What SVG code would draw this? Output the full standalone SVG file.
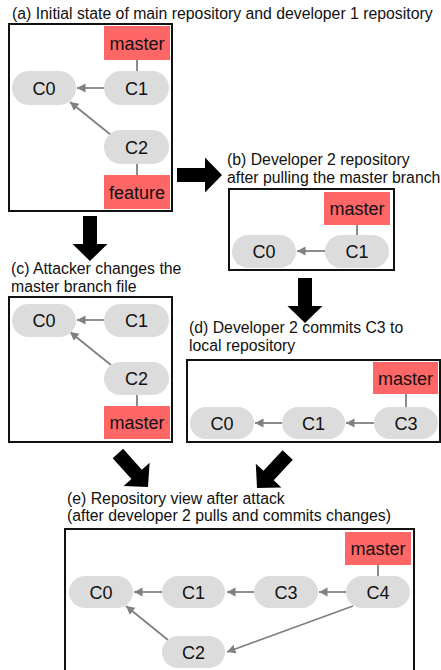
<svg xmlns="http://www.w3.org/2000/svg" width="441" height="670" viewBox="0 0 441 670">
<style>
.title{font-family:"Liberation Sans",Arial,sans-serif;font-size:15.8px;fill:#111}
.node rect.c{fill:#dcdcdc}
.lbl{fill:#ff6666}
.t{font-family:"Liberation Sans",Arial,sans-serif;font-size:18px;fill:#111;text-anchor:middle}
.frame{fill:none;stroke:#111;stroke-width:2}
.edge{stroke:#808080;stroke-width:1.8;fill:none}
.arr{marker-end:url(#ah)}
.big{fill:#000}
</style>
<defs>
<marker id="ah" markerUnits="userSpaceOnUse" markerWidth="10" markerHeight="10" refX="8.5" refY="4.5" orient="auto">
<path d="M0,0 L8.5,4.5 L0,9 z" fill="#808080"/>
</marker>
<polygon id="bigArrow" points="-45,-7 -17,-7 -17,-17.5 0,0 -17,17.5 -17,7 -45,7"/>
</defs>

<!-- titles -->
<text class="title" x="12" y="19">(a) Initial state of main repository and developer 1 repository</text>
<text class="title" x="227" y="164.5">(b) Developer 2 repository</text>
<text class="title" x="227" y="182.5">after pulling the master branch</text>
<text class="title" x="11" y="274">(c) Attacker changes the</text>
<text class="title" x="11" y="291.5">master branch file</text>
<text class="title" x="189" y="333">(d) Developer 2 commits C3 to</text>
<text class="title" x="189" y="350.5">local repository</text>
<text class="title" x="67" y="503.5">(e) Repository view after attack</text>
<text class="title" x="67" y="521">(after developer 2 pulls and commits changes)</text>

<!-- frames -->
<g id="frames">
<rect class="frame" x="9" y="24" width="163" height="187"/>
<rect class="frame" x="229" y="189" width="165" height="81"/>
<rect class="frame" x="9" y="297" width="163" height="145"/>
<rect class="frame" x="187" y="360" width="253" height="82"/>
<rect class="frame" x="65" y="529" width="349" height="150"/>
</g>

<!-- big arrows -->
<g id="bigArrows" class="big">
<use href="#bigArrow" transform="translate(222,175)"/>
<use href="#bigArrow" transform="translate(90,261) rotate(90)"/>
<use href="#bigArrow" transform="translate(305,323) rotate(90)"/>
<use href="#bigArrow" transform="translate(148,487) rotate(48)"/>
<use href="#bigArrow" transform="translate(257,488) rotate(133)"/>
</g>

<!-- connectors -->
<g id="connectors">
<!-- a -->
<line class="edge" x1="137" y1="60" x2="137" y2="71"/>
<line class="edge" x1="137" y1="164" x2="137" y2="175"/>
<line class="edge arr" x1="104" y1="88" x2="77" y2="88"/>
<line class="edge arr" x1="111" y1="135" x2="70" y2="102"/>
<!-- b -->
<line class="edge" x1="357" y1="225" x2="357" y2="236"/>
<line class="edge arr" x1="325" y1="251" x2="297" y2="251"/>
<!-- c -->
<line class="edge" x1="137" y1="395" x2="137" y2="406"/>
<line class="edge arr" x1="104" y1="320" x2="77" y2="320"/>
<line class="edge arr" x1="111" y1="365" x2="70" y2="332"/>
<!-- d -->
<line class="edge" x1="406" y1="394" x2="406" y2="407"/>
<line class="edge arr" x1="282" y1="423" x2="255" y2="423"/>
<line class="edge arr" x1="374" y1="423" x2="346" y2="423"/>
<!-- e -->
<line class="edge" x1="378" y1="565" x2="378" y2="576"/>
<line class="edge arr" x1="162" y1="592" x2="134" y2="592"/>
<line class="edge arr" x1="254" y1="592" x2="227" y2="592"/>
<line class="edge arr" x1="346" y1="592" x2="319" y2="592"/>
<line class="edge arr" x1="353" y1="606" x2="227" y2="652"/>
<line class="edge arr" x1="168" y1="640" x2="126" y2="606"/>
</g>

<!-- panel a nodes -->
<g id="a-master" class="node"><rect class="lbl" x="104" y="26" width="66" height="34"/><text class="t" x="137" y="49.5">master</text></g>
<g id="a-C1" class="node"><rect class="c" x="104" y="71" width="65" height="34" rx="17"/><text class="t" x="136.5" y="94.5">C1</text></g>
<g id="a-C0" class="node"><rect class="c" x="12" y="71" width="64" height="34" rx="17"/><text class="t" x="44" y="94.5">C0</text></g>
<g id="a-C2" class="node"><rect class="c" x="104" y="130" width="65" height="34" rx="17"/><text class="t" x="136.5" y="153.5">C2</text></g>
<g id="a-feature" class="node"><rect class="lbl" x="104" y="175" width="66" height="34"/><text class="t" x="137" y="198.5">feature</text></g>

<!-- panel b nodes -->
<g id="b-master" class="node"><rect class="lbl" x="324" y="192" width="66" height="33"/><text class="t" x="357" y="215">master</text></g>
<g id="b-C1" class="node"><rect class="c" x="325" y="235" width="64" height="33" rx="16.5"/><text class="t" x="357" y="258">C1</text></g>
<g id="b-C0" class="node"><rect class="c" x="232" y="235" width="64" height="33" rx="16.5"/><text class="t" x="264" y="258">C0</text></g>

<!-- panel c nodes -->
<g id="c-C0" class="node"><rect class="c" x="12" y="304" width="64" height="33" rx="16.5"/><text class="t" x="44" y="327">C0</text></g>
<g id="c-C1" class="node"><rect class="c" x="104" y="304" width="65" height="33" rx="16.5"/><text class="t" x="136.5" y="327">C1</text></g>
<g id="c-C2" class="node"><rect class="c" x="104" y="362" width="65" height="33" rx="16.5"/><text class="t" x="136.5" y="385">C2</text></g>
<g id="c-master" class="node"><rect class="lbl" x="104" y="406" width="66" height="33"/><text class="t" x="137" y="429">master</text></g>

<!-- panel d nodes -->
<g id="d-master" class="node"><rect class="lbl" x="373" y="362" width="65" height="32"/><text class="t" x="405.5" y="384.5">master</text></g>
<g id="d-C0" class="node"><rect class="c" x="190" y="407" width="64" height="32" rx="16"/><text class="t" x="222" y="429.5">C0</text></g>
<g id="d-C1" class="node"><rect class="c" x="282" y="407" width="63" height="32" rx="16"/><text class="t" x="313.5" y="429.5">C1</text></g>
<g id="d-C3" class="node"><rect class="c" x="374" y="407" width="64" height="32" rx="16"/><text class="t" x="406" y="429.5">C3</text></g>

<!-- panel e nodes -->
<g id="e-master" class="node"><rect class="lbl" x="345" y="532" width="66" height="33"/><text class="t" x="378" y="555">master</text></g>
<g id="e-C0" class="node"><rect class="c" x="69" y="576" width="64" height="32" rx="16"/><text class="t" x="101" y="598.5">C0</text></g>
<g id="e-C1" class="node"><rect class="c" x="162" y="576" width="63" height="32" rx="16"/><text class="t" x="193.5" y="598.5">C1</text></g>
<g id="e-C3" class="node"><rect class="c" x="254" y="576" width="64" height="32" rx="16"/><text class="t" x="286" y="598.5">C3</text></g>
<g id="e-C4" class="node"><rect class="c" x="346" y="576" width="64" height="32" rx="16"/><text class="t" x="378" y="598.5">C4</text></g>
<g id="e-C2" class="node"><rect class="c" x="162" y="636" width="63" height="32" rx="16"/><text class="t" x="193.5" y="658.5">C2</text></g>
</svg>
